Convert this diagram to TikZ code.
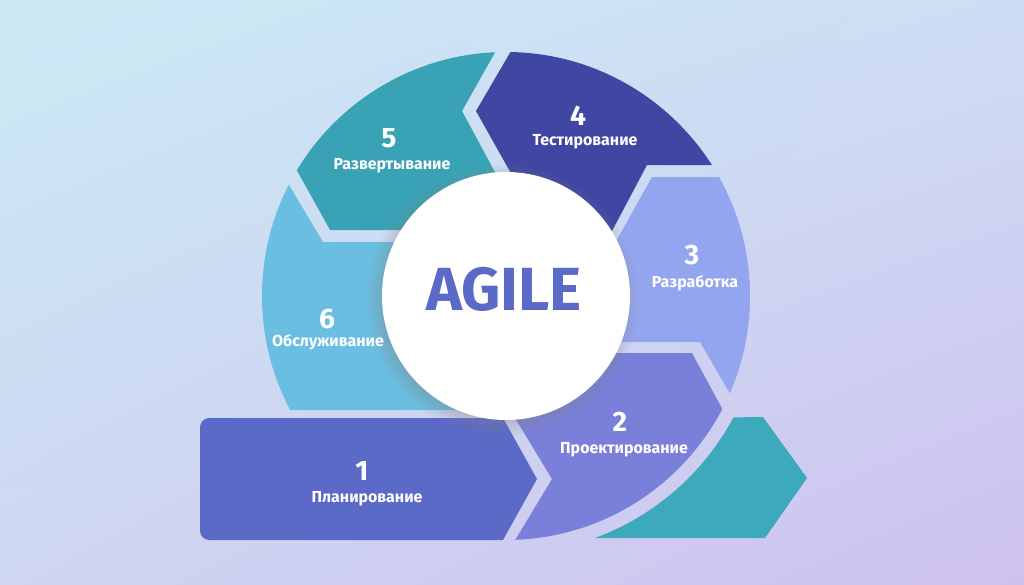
\documentclass[tikz,border=0pt]{standalone}
\usepackage{fontspec}
\setmainfont{Fira Sans}
\usetikzlibrary{shadows,shadings}

\definecolor{planC}{HTML}{5B69C7}
\definecolor{projC}{HTML}{7A7FD9}
\definecolor{devC}{HTML}{93A5EE}
\definecolor{testC}{HTML}{3F47A3}
\definecolor{deployC}{HTML}{39A3B5}
\definecolor{serveC}{HTML}{6ABEE1}
\definecolor{loopC}{HTML}{3CAABB}
\definecolor{bgTL}{HTML}{CBEAF5}
\definecolor{bgTR}{HTML}{CEDDF3}
\definecolor{bgBL}{HTML}{CED6F1}
\definecolor{bgBR}{HTML}{CEC1F0}

\begin{document}
\begin{tikzpicture}[x=0.03cm,y=-0.03cm,
  num/.style={text=white,anchor=base,font=\bfseries\fontsize{24}{24}\selectfont},
  lbl/.style={text=white,anchor=base,font=\bfseries\fontsize{13.6}{13.6}\selectfont}]
\shade[upper left=bgTL,upper right=bgTR,lower left=bgBL,lower right=bgBR] (0,0) rectangle (1024,585);
\useasboundingbox (0,0) rectangle (1024,585);

% the ring, cut to its outer circle
\begin{scope}
  \clip (506,296) circle[radius=244];
  \fill[deployC] (519,10) -- (462,111) -- (510,200) -- (510,230) -- (330,230) -- (280,140) -- (260,10) -- cycle;
  \fill[testC] (535,10) -- (476,111) -- (526,200) -- (594,265) -- (647,165) -- (790,165) -- (790,10) -- cycle;
  \fill[devC] (600,270) -- (652,177) -- (790,177) -- (790,445) -- (760,445) -- (700,342) -- (570,342) -- cycle;
  \fill[projC] (565,353) -- (692,353) -- (750,460) -- (750,600) -- (479,600) -- (552,479) -- (498,390) -- cycle;
  \fill[serveC] (270,153) -- (323,242) -- (500,242) -- (500,410) -- (200,410) -- (200,153) -- cycle;
\end{scope}

% first step and the way out
\fill[planC,rounded corners=8] (200,418) rectangle (503,540);
\fill[planC] (490,418) -- (503,418) -- (537,479) -- (503,540) -- (490,540) -- cycle;
\fill[loopC] (595,538) arc[start angle=69.8,end angle=28.1,radius=258] -- (763,417) -- (807,478) -- (765,538) -- cycle;

\node (core) [circle,fill=white,minimum size=7.44cm,inner sep=0pt,
  circular drop shadow={shadow xshift=-3pt,shadow yshift=-3pt,opacity=.4}] at (506,296) {};
\node (title) [text=planC,anchor=base,font=\bfseries\fontsize{52}{52}\selectfont] at (504,310) {AGILE};

\node (n1) [num] at (362,480) {1};
\node (t1) [lbl] at (367,502) {Планирование};
\node (n2) [num] at (620,431) {2};
\node (t2) [lbl] at (624,453) {Проектирование};
\node (n3) [num] at (692,264) {3};
\node (t3) [lbl] at (695,287) {Разработка};
\node (n4) [num] at (578,125) {4};
\node (t4) [lbl] at (585,145) {Тестирование};
\node (n5) [num] at (389,147) {5};
\node (t5) [lbl] at (392,169) {Развертывание};
\node (n6) [num] at (327,328) {6};
\node (t6) [lbl] at (328,346) {Обслуживание};
\end{tikzpicture}
\end{document}
